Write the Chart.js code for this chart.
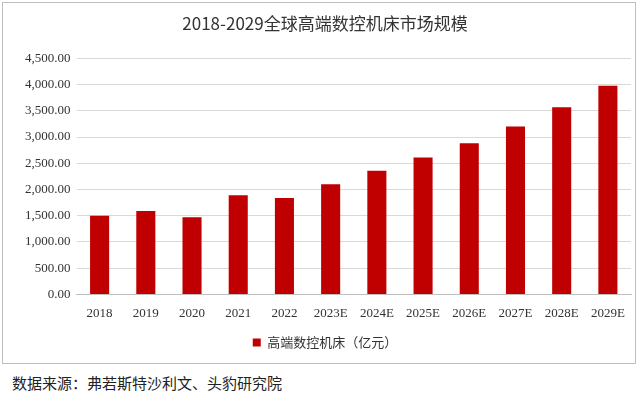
<!DOCTYPE html>
<html><head><meta charset="utf-8">
<script src="https://cdn.jsdelivr.net/npm/chart.js@4"></script>
<style>
body{margin:0;background:#fff;width:640px;height:404px;overflow:hidden;font-family:"Liberation Serif","Noto Sans CJK SC",serif}
#box{position:absolute;left:2px;top:2px;width:634px;height:362px;border:1px solid #bfbfbf;box-sizing:border-box}
#src{position:absolute;left:12px;top:372px;font-size:15px;color:#222;font-family:"Noto Sans CJK SC",sans-serif}
</style></head><body>
<div id="box"><canvas id="myChart" width="632" height="360"></canvas></div>
<div id="src">数据来源：弗若斯特沙利文、头豹研究院</div>
<script>
var years = ['2018','2019','2020','2021','2022','2023E','2024E','2025E','2026E','2027E','2028E','2029E'];
var marketSize = [1500,1590,1470,1890,1840,2100,2360,2610,2880,3200,3570,3980];
var seriesName = '高端数控机床（亿元）';

var ctx = document.getElementById('myChart').getContext('2d');
new Chart(ctx, {
    type: 'bar',
    data: {
        labels: years,
        datasets: [{
            label: seriesName,
            data: marketSize,
            backgroundColor: '#C00000',
            categoryPercentage: 0.75,
            barPercentage: 0.55
        }]
    },
    options: {
        responsive: false,
        animation: false,
        layout: {padding: {left: 16, right: 4, top: 0, bottom: 4}},
        plugins: {
            title: {display: true, text: '2018-2029全球高端数控机床市场规模', color: '#333',
                font: {size: 17, family: '"Noto Sans CJK SC", serif', weight: 'normal'}, padding: {top: 10, bottom: 25}},
            legend: {position: 'bottom', labels: {boxWidth: 8, boxHeight: 8, color: '#333', padding: 12,
                font: {size: 13, family: '"Noto Sans CJK SC", sans-serif'}}},
            tooltip: {enabled: false}
        },
        scales: {
            x: {grid: {display: false}, border: {color: '#bfbfbf'},
                ticks: {color: '#333', font: {size: 13, family: '"Liberation Serif", serif'}}},
            y: {min: 0, max: 4500, border: {display: false},
                ticks: {stepSize: 500, color: '#333', padding: 6, font: {size: 13, family: '"Liberation Serif", serif'},
                    callback: function(v){return v.toLocaleString('en-US',{minimumFractionDigits:2,maximumFractionDigits:2});}},
                grid: {color: '#d9d9d9', drawTicks: false}}
        }
    }
});
</script>
</body></html>
